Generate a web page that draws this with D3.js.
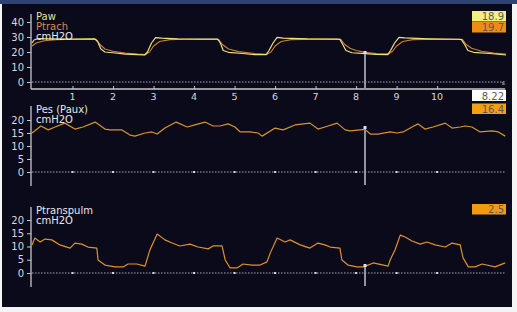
<!DOCTYPE html>
<html>
<head>
<meta charset="utf-8">
<script src="https://cdn.jsdelivr.net/npm/d3@7"></script>
<style>
  body { margin: 0; background: #f4f4f4; }
  svg { display: block; }
</style>
</head>
<body>
<div id="chart"></div>
<script>
// time in seconds, pressure in cmH2O
const pawT = [0, 0.05, 0.15, 0.4, 1.0, 1.55, 1.62, 1.7, 1.8, 2.0, 2.3, 2.6, 2.78, 2.85, 2.95, 3.05, 3.2, 3.6, 4.2, 4.58, 4.65, 4.72, 4.85, 5.2, 5.5, 5.78, 5.85, 5.95, 6.05, 6.2, 6.8, 7.5, 7.6, 7.67, 7.75, 7.9, 8.22, 8.5, 8.78, 8.85, 8.95, 9.06, 9.2, 9.8, 10.5, 10.6, 10.68, 10.76, 10.9, 11.3, 11.7];
const pawV = [26, 28, 29, 28.8, 28.6, 28.7, 27, 22, 20, 19.5, 18.6, 18.2, 18, 20, 26, 29.6, 29.3, 28.8, 28.6, 28.6, 26, 21, 19.8, 19, 18.3, 18.2, 21, 26, 29.8, 29.2, 28.7, 28.6, 28.4, 25, 21, 19.5, 18.9, 18.4, 18.3, 21, 26, 29.8, 29.4, 28.8, 28.5, 28.3, 25, 21, 19.8, 19, 18];

const ptrachT = [0, 0.1, 0.3, 0.6, 1.0, 1.58, 1.68, 1.8, 2.0, 2.3, 2.6, 2.8, 2.9, 3.0, 3.15, 3.4, 3.8, 4.6, 4.7, 4.85, 5.1, 5.5, 5.8, 5.9, 6.0, 6.15, 6.4, 7.0, 7.62, 7.72, 7.85, 8.0, 8.22, 8.5, 8.8, 8.9, 9.0, 9.15, 9.4, 10.0, 10.62, 10.72, 10.85, 11.1, 11.4, 11.7];
const ptrachV = [24, 26, 27.5, 28.3, 28.5, 28.5, 25, 22, 20.5, 19.3, 18.6, 18.3, 20, 24, 27, 28.2, 28.5, 28.5, 25, 22, 20.3, 19, 18.5, 20, 24, 27, 28.2, 28.6, 28.5, 25, 22.5, 21, 19.7, 19, 18.7, 20.5, 24, 27, 28.2, 28.5, 28.4, 25, 22.5, 20.5, 19.3, 18.6];

const pesT = [0, 0.22, 0.4, 0.57, 0.81, 1.06, 1.26, 1.56, 1.8, 1.93, 2.22, 2.42, 2.54, 2.79, 2.96, 3.09, 3.28, 3.56, 3.83, 4.02, 4.27, 4.47, 4.64, 4.84, 5.01, 5.14, 5.38, 5.58, 5.68, 6.0, 6.2, 6.49, 6.86, 7.06, 7.23, 7.53, 7.73, 7.85, 8.22, 8.35, 8.54, 8.84, 9.01, 9.16, 9.38, 9.53, 9.7, 9.9, 10.2, 10.37, 10.57, 10.69, 10.86, 11.06, 11.36, 11.51, 11.68];
const pesV = [15, 17.7, 16.2, 17.3, 18.8, 16.5, 17.3, 19.2, 16.5, 16.2, 16.2, 14.2, 13.8, 15, 15.4, 14.6, 16.9, 19.2, 17.3, 18.1, 19.2, 17.7, 17.7, 18.5, 17.3, 15.4, 15.4, 15.0, 13.8, 16.9, 16.2, 18.1, 18.8, 16.5, 17.3, 18.8, 16.2, 15.8, 16.4, 14.6, 14.6, 15.4, 15, 15.4, 17.3, 18.5, 16.5, 17.3, 18.8, 16.9, 17.3, 17.7, 17.3, 15.4, 15.8, 15.4, 13.8];

const ptpT = [0, 0.07, 0.2, 0.32, 0.49, 0.69, 0.94, 1.06, 1.23, 1.38, 1.6, 1.63, 1.8, 2.05, 2.25, 2.37, 2.59, 2.79, 2.91, 3.09, 3.28, 3.46, 3.65, 3.9, 4.1, 4.35, 4.47, 4.69, 4.77, 4.89, 5.06, 5.21, 5.43, 5.63, 5.8, 5.88, 6.05, 6.25, 6.37, 6.62, 6.86, 7.06, 7.23, 7.36, 7.6, 7.65, 7.8, 8.02, 8.17, 8.22, 8.42, 8.79, 8.84, 8.96, 9.09, 9.21, 9.38, 9.58, 9.75, 9.95, 10.2, 10.37, 10.57, 10.64, 10.77, 10.94, 11.11, 11.43, 11.68];
const ptpV = [10.6, 13.2, 11.7, 12.8, 12.5, 10.6, 9.4, 11.3, 10.9, 9.8, 9.4, 4.9, 3, 2.3, 2.3, 3.4, 3.4, 2.6, 8.7, 14.7, 12.5, 11.3, 10.2, 10.9, 9.8, 9.1, 10.2, 10.2, 4.9, 1.9, 1.9, 3.4, 3, 3, 4.2, 7.5, 13.2, 11.7, 12.5, 10.6, 9.4, 11.3, 10.6, 9.8, 9.4, 4.9, 3, 2.3, 2.3, 2.5, 3.8, 2.6, 4.9, 8.7, 14.3, 13.6, 12.1, 10.9, 11.7, 10.6, 9.8, 11.3, 10.6, 5.7, 2.3, 2.3, 3.4, 2.3, 3.8];

const secTicks = [1, 2, 3, 4, 5, 6, 7, 8, 9, 10];
const cursorT = 8.22;

const W = 517, H = 312;
const font = "'DejaVu Sans', Verdana, sans-serif";

const svg = d3.select('#chart').append('svg')
  .attr('width', W)
  .attr('height', H)
  .attr('font-family', font);

// monitor frame
svg.append('rect').attr('x', 2).attr('y', 0).attr('width', 510).attr('height', 307).attr('fill', '#0a0a1b');
svg.append('rect').attr('x', 0).attr('y', 0).attr('width', W).attr('height', 4).attr('fill', '#2e4274');

const x = d3.scaleLinear().domain([0, 11.7]).range([32, 506]);

const panels = [
  {
    y: d3.scaleLinear().domain([0, 40]).range([82, 22]),
    ticks: [0, 10, 20, 30, 40], axisTop: 14, axisBottom: 89,
    labels: [['Paw', '#e6e29a'], ['Ptrach', '#d98a4a'], ['cmH2O', '#e8e8e8']], labelY: 20,
    series: [[ptrachT, ptrachV, '#cf7a3a'], [pawT, pawV, '#ece27a']],
    boxes: [['18.9', '#f4f07c', 11], ['19.7', '#f08c14', 22]],
    xAxis: true, markers: false, cursorTop: 52
  },
  {
    y: d3.scaleLinear().domain([0, 20]).range([172, 120]),
    ticks: [0, 5, 10, 15, 20], axisTop: 106, axisBottom: 186,
    labels: [['Pes (Paux)', '#e8e8e8'], ['cmH2O', '#e8e8e8']], labelY: 113,
    series: [[pesT, pesV, '#d8922e']],
    boxes: [['16.4', '#f4a010', 103.5]],
    xAxis: false, markers: true, cursorTop: 127, cursorBottom: 185
  },
  {
    y: d3.scaleLinear().domain([0, 20]).range([273, 220]),
    ticks: [0, 5, 10, 15, 20], axisTop: 207, axisBottom: 287,
    labels: [['Ptranspulm', '#e8e8e8'], ['cmH2O', '#e8e8e8']], labelY: 214,
    series: [[ptpT, ptpV, '#e0902e']],
    boxes: [['2.5', '#f49a12', 204]],
    xAxis: false, markers: true, cursorTop: 265, cursorBottom: 286
  }
];

panels.forEach(p => {
  const g = svg.append('g');

  // left axis
  const yAxis = d3.axisLeft(p.y).tickValues(p.ticks).tickSize(4).tickPadding(3);
  const ag = g.append('g').attr('transform', 'translate(31,0)').call(yAxis);
  ag.select('.domain').remove();
  ag.selectAll('line').attr('stroke', '#c8c8cc');
  ag.selectAll('text').attr('fill', '#d8d8dc').attr('font-size', 10).attr('font-family', font);
  g.append('line')
    .attr('x1', 31).attr('x2', 31)
    .attr('y1', p.axisTop).attr('y2', p.axisBottom)
    .attr('stroke', '#c8c8cc').attr('stroke-width', 1.3);

  // zero reference line
  g.append('line')
    .attr('x1', 32).attr('x2', x(11.68))
    .attr('y1', p.y(0)).attr('y2', p.y(0))
    .attr('stroke', '#a8a8b4').attr('stroke-width', 1)
    .attr('stroke-dasharray', '1.5,1.5');

  if (p.markers) {
    g.selectAll('.mk').data(secTicks).enter().append('rect')
      .attr('x', d => x(d) - 1).attr('y', p.y(0) - 1)
      .attr('width', 2).attr('height', 2)
      .attr('fill', '#d8d8e0');
  }

  if (p.xAxis) {
    const xAxis = d3.axisTop(x).tickValues(secTicks).tickSize(3).tickFormat('');
    const xg = g.append('g').attr('transform', `translate(0,${p.axisBottom})`).call(xAxis);
    xg.select('.domain').remove();
    xg.selectAll('line').attr('stroke', '#c8c8cc');
    g.append('line')
      .attr('x1', 31).attr('x2', x(11.68))
      .attr('y1', p.axisBottom).attr('y2', p.axisBottom)
      .attr('stroke', '#c8c8cc').attr('stroke-width', 1.3);
    g.selectAll('.xl').data(secTicks).enter().append('text')
      .attr('x', d => x(d)).attr('y', 100)
      .attr('text-anchor', 'middle')
      .attr('font-size', 9.5)
      .attr('fill', '#d8d8dc')
      .text(d => d);
    g.append('text').attr('x', 505).attr('y', 85)
      .attr('text-anchor', 'end').attr('font-size', 6)
      .attr('fill', '#d8d8dc').text('s');
  }

  // traces
  p.series.forEach(([ts, vs, col]) => {
    const pts = ts.map((t, i) => [t, vs[i]]);
    g.append('path')
      .datum(pts)
      .attr('d', d3.line().x(d => x(d[0])).y(d => p.y(d[1])))
      .attr('fill', 'none')
      .attr('stroke', col)
      .attr('stroke-width', 1.2)
      .attr('stroke-linejoin', 'round');
  });

  // channel labels
  p.labels.forEach(([txt, col], i) => {
    g.append('text')
      .attr('x', 36).attr('y', p.labelY + i * 10)
      .attr('font-size', 10)
      .attr('fill', col)
      .text(txt);
  });

  // value boxes
  p.boxes.forEach(([txt, col, by]) => {
    g.append('rect').attr('x', 472).attr('y', by).attr('width', 34).attr('height', 10.5).attr('fill', col);
    g.append('text')
      .attr('x', 504).attr('y', by + 9)
      .attr('text-anchor', 'end')
      .attr('font-size', 10)
      .attr('fill', '#5a5a5a')
      .text(txt);
  });

  // cursor
  const cb = p.cursorBottom || p.axisBottom + 1;
  g.append('line')
    .attr('x1', x(cursorT)).attr('x2', x(cursorT))
    .attr('y1', p.cursorTop).attr('y2', cb)
    .attr('stroke', '#8e94a6').attr('stroke-width', 2);
  g.append('rect')
    .attr('x', x(cursorT) - 1.5).attr('y', p.cursorTop - 1)
    .attr('width', 3).attr('height', 3)
    .attr('fill', '#e0e0e8');
});

// cursor time box
svg.append('rect').attr('x', 472).attr('y', 90).attr('width', 34).attr('height', 11).attr('fill', '#ffffff');
svg.append('text').attr('x', 504).attr('y', 99.5)
  .attr('text-anchor', 'end').attr('font-size', 10)
  .attr('fill', '#5a5a5a').text(cursorT.toFixed(2));
</script>
</body>
</html>
